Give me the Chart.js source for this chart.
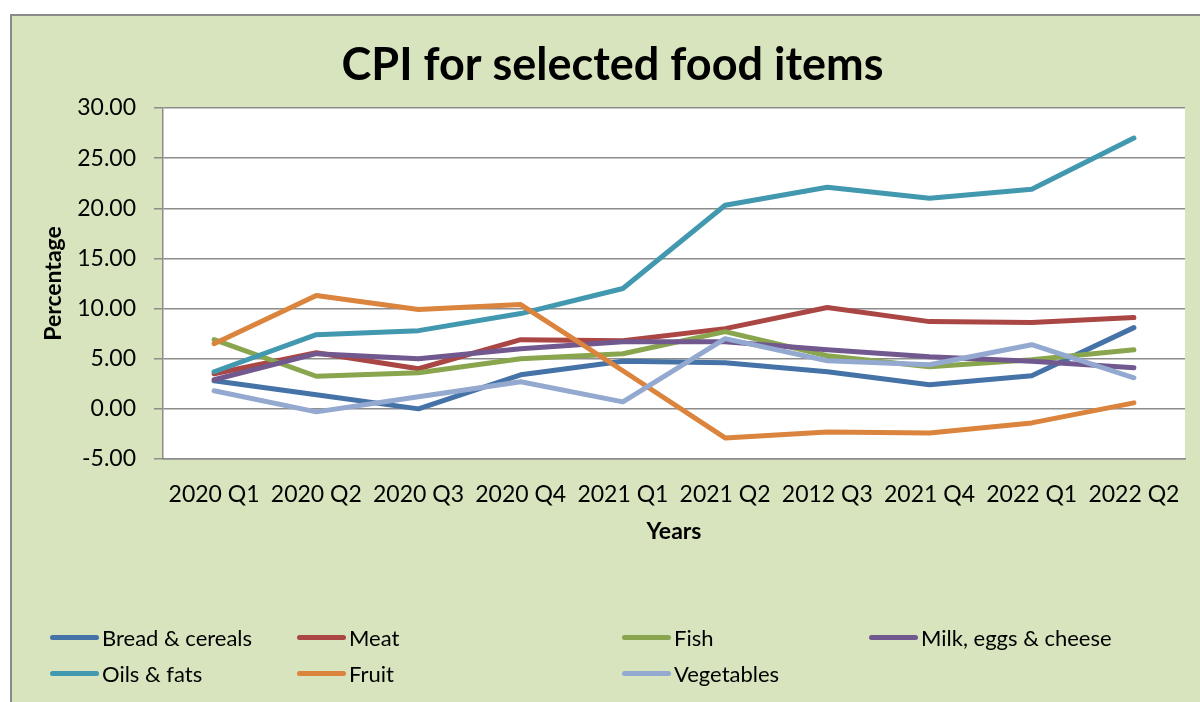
<!DOCTYPE html>
<html>
<head>
<meta charset="utf-8">
<title>CPI for selected food items</title>
<script src="https://cdn.jsdelivr.net/npm/chart.js@4.4.0/dist/chart.umd.min.js"></script>
<style>
  body { margin: 0; background: #fff; }
  #wrap { position: relative; width: 1200px; height: 702px; overflow: hidden; }
  #chart { position: absolute; left: 0; top: 0; }
  #legend {
    position: absolute; left: 50px; top: 619px;
    display: grid; grid-template-columns: 247px 325px 247px 300px;
    font-family: Lato, sans-serif; font-size: 22px; color: #000;
  }
  .item { display: flex; align-items: center; height: 36px; white-space: nowrap; }
  .swatch { width: 49px; height: 5px; border-radius: 3px; margin-right: 3px; }
</style>
</head>
<body>
<div id="wrap">
  <canvas id="chart" width="1200" height="702"></canvas>
  <div id="legend"></div>
</div>
<script>
// data
const quarters = ['2020 Q1', '2020 Q2', '2020 Q3', '2020 Q4', '2021 Q1', '2021 Q2', '2012 Q3', '2021 Q4', '2022 Q1', '2022 Q2'];
const breadCereals   = [2.8, 1.4, 0.0, 3.4, 4.75, 4.6, 3.7, 2.4, 3.3, 8.1];
const meat           = [3.5, 5.6, 4.0, 6.9, 6.8, 8.0, 10.1, 8.7, 8.6, 9.1];
const fish           = [6.9, 3.25, 3.6, 5.0, 5.5, 7.7, 5.3, 4.2, 4.9, 5.9];
const milkEggsCheese = [2.9, 5.5, 5.0, 6.0, 6.7, 6.7, 5.9, 5.2, 4.75, 4.1];
const oilsFats       = [3.7, 7.4, 7.8, 9.5, 12.0, 20.3, 22.1, 21.0, 21.9, 27.0];
const fruit          = [6.5, 11.3, 9.9, 10.4, 3.8, -2.9, -2.3, -2.4, -1.4, 0.6];
const vegetables     = [1.8, -0.3, 1.2, 2.7, 0.7, 7.0, 4.8, 4.4, 6.4, 3.1];

const seriesNames  = ['Bread & cereals', 'Meat', 'Fish', 'Milk, eggs & cheese', 'Oils & fats', 'Fruit', 'Vegetables'];
const seriesValues = [breadCereals, meat, fish, milkEggsCheese, oilsFats, fruit, vegetables];
const seriesColors = ['#4572A7', '#AA4643', '#89A54E', '#71588F', '#4198AF', '#DB843D', '#93A9CF'];

const yMin = -5, yMax = 30, yStep = 5;

const gridColor = '#8c8c8c';
const fontFamily = 'Lato, sans-serif';

// green panel behind everything, white plot area
const panelPlugin = {
    id: 'panel',
    beforeDraw(chart) {
        const ctx = chart.ctx;
        const a = chart.chartArea;
        ctx.save();
        ctx.fillStyle = '#fff';
        ctx.fillRect(0, 0, chart.width, chart.height);
        ctx.fillStyle = '#D7E4BD';
        ctx.fillRect(11, 15, chart.width, chart.height);
        ctx.strokeStyle = '#8a8a8a';
        ctx.lineWidth = 2;
        ctx.strokeRect(11, 15, chart.width + 10, chart.height + 10);
        ctx.fillStyle = '#fff';
        ctx.fillRect(a.left, a.top, a.right - a.left, a.bottom - a.top);
        ctx.restore();
    }
};

const datasets = seriesNames.map((name, i) => ({
    label: name,
    data: seriesValues[i],
    borderColor: seriesColors[i],
    backgroundColor: seriesColors[i],
    borderWidth: 5,
    pointRadius: 0,
    tension: 0,
    borderCapStyle: 'round',
    borderJoinStyle: 'round',
    order: seriesNames.length - i
}));

new Chart(document.getElementById('chart'), {
    type: 'line',
    data: { labels: quarters, datasets: datasets },
    plugins: [panelPlugin],
    options: {
        responsive: false,
        animation: false,
        layout: { padding: { left: 40, top: 15, right: 15, bottom: 157 } },
        plugins: {
            legend: { display: false },
            tooltip: { enabled: false },
            title: {
                display: true,
                text: 'CPI for selected food items',
                color: '#000',
                font: { family: fontFamily, size: 45, weight: 'bold', lineHeight: 1.2 },
                padding: { top: 23, bottom: 16 }
            }
        },
        scales: {
            x: {
                offset: true,
                grid: { display: false },
                border: { display: true, color: gridColor, width: 1.5 },
                ticks: { color: '#000', padding: 14, maxRotation: 0, autoSkip: false, font: { family: fontFamily, size: 23 } },
                title: { display: true, text: 'Years', color: '#000', padding: 0, font: { family: fontFamily, size: 23, weight: 'bold' } },
                afterFit(scale) { scale.height = 86; }
            },
            y: {
                min: yMin,
                max: yMax,
                grid: { color: gridColor, lineWidth: 1.5, tickLength: 9, tickColor: gridColor },
                border: { color: gridColor, width: 1.5 },
                ticks: {
                    stepSize: yStep,
                    color: '#000',
                    padding: 18,
                    font: { family: fontFamily, size: 23 },
                    callback: v => v.toFixed(2)
                },
                title: { display: true, text: 'Percentage', color: '#000', padding: 0, font: { family: fontFamily, size: 23, weight: 'bold' } },
                afterFit(scale) { scale.width = 123; }
            }
        }
    }
});

// legend laid out like the original: two rows, four columns
const legend = document.getElementById('legend');
seriesNames.forEach((name, i) => {
    const item = document.createElement('div');
    item.className = 'item';
    const sw = document.createElement('span');
    sw.className = 'swatch';
    sw.style.background = seriesColors[i];
    const txt = document.createElement('span');
    txt.textContent = name;
    item.appendChild(sw);
    item.appendChild(txt);
    legend.appendChild(item);
});
</script>
</body>
</html>
